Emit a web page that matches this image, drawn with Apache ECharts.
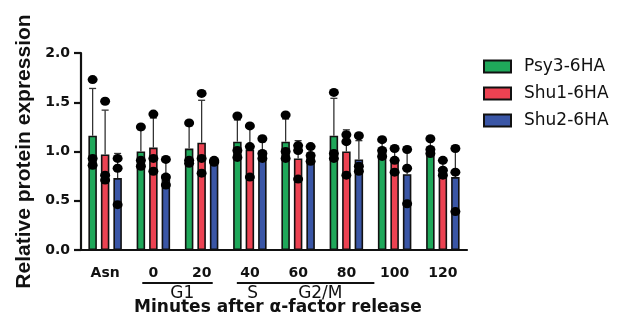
<!DOCTYPE html>
<html>
<head>
<meta charset="utf-8">
<script src="https://cdn.jsdelivr.net/npm/echarts@6/dist/echarts.min.js"></script>
<style>
html,body{margin:0;padding:0;background:#fff;}
#chart{width:621px;height:323px;}
</style>
</head>
<body>
<div id="chart"></div>
<script>
// ---- data ----
var categories = ['Asn', '0', '20', '40', '60', '80', '100', '120'];
var seriesNames = ['Psy3-6HA', 'Shu1-6HA', 'Shu2-6HA'];
var yTicks = [0, 0.5, 1.0, 1.5, 2.0];

var psy3Mean = [1.16, 1.00, 1.03, 1.10, 1.10, 1.16, 1.02, 1.03];
var shu1Mean = [0.97, 1.04, 1.09, 1.02, 0.93, 1.00, 0.91, 0.83];
var shu2Mean = [0.73, 0.77, 0.90, 1.00, 0.97, 0.92, 0.77, 0.74];

var psy3SD = [0.48, 0.22, 0.23, 0.22, 0.23, 0.38, 0.09, 0.08];
var shu1SD = [0.45, 0.30, 0.43, 0.26, 0.18, 0.22, 0.12, 0.08];
var shu2SD = [0.25, 0.13, 0.01, 0.10, 0.08, 0.19, 0.28, 0.32];

// individual replicate points (3 per bar)
var psy3Points = [[1.73, 0.93, 0.86], [1.25, 0.91, 0.85], [1.29, 0.91, 0.88], [1.36, 1.01, 0.94],
                  [1.37, 1.00, 0.93], [1.60, 0.98, 0.93], [1.12, 1.01, 0.95], [1.13, 1.02, 0.98]];
var shu1Points = [[1.51, 0.76, 0.71], [1.38, 0.93, 0.80], [1.59, 0.93, 0.78], [1.26, 1.05, 0.74],
                  [1.06, 1.01, 0.72], [1.17, 1.10, 0.76], [1.03, 0.91, 0.79], [0.91, 0.81, 0.76]];
var shu2Points = [[0.93, 0.83, 0.46], [0.92, 0.74, 0.66], [0.91, 0.90, 0.89], [1.13, 0.98, 0.93],
                  [1.05, 0.96, 0.90], [1.16, 0.85, 0.80], [1.02, 0.83, 0.47], [1.03, 0.79, 0.39]];

var colors = ['#1fa85a', '#ec4252', '#3a56a6'];

// ---- build ----
var means = [psy3Mean, shu1Mean, shu2Mean];
var sds = [psy3SD, shu1SD, shu2SD];
var points = [psy3Points, shu1Points, shu2Points];
var BAR_W = 8.5, STEP = 12.5;

var series = [];
means.forEach(function (m, s) {
  series.push({
    name: seriesNames[s], type: 'bar', data: m, barWidth: BAR_W, barGap: '47%',
    itemStyle: { color: colors[s], borderColor: '#111', borderWidth: 1.6 },
    z: 2, animation: false
  });
});
means.forEach(function (m, s) {
  var off = (s - 1) * STEP;
  series.push({
    type: 'custom', z: 3, animation: false, silent: true,
    data: m.map(function (v, i) { return [i, v, v + sds[s][i]]; }),
    renderItem: function (params, api) {
      var p0 = api.coord([api.value(0), api.value(1)]);
      var p1 = api.coord([api.value(0), api.value(2)]);
      var x = p0[0] + off;
      var st = { stroke: '#333', lineWidth: 1.3 };
      return { type: 'group', children: [
        { type: 'line', shape: { x1: x, y1: p0[1], x2: x, y2: p1[1] }, style: st },
        { type: 'line', shape: { x1: x - 3.5, y1: p1[1], x2: x + 3.5, y2: p1[1] }, style: st }
      ]};
    }
  });
});
points.forEach(function (pts, s) {
  var d = [];
  pts.forEach(function (arr, i) { arr.forEach(function (v) { d.push([categories[i], v]); }); });
  series.push({
    type: 'scatter', data: d, symbol: 'circle', symbolSize: [10, 9],
    symbolOffset: [(s - 1) * STEP, 0],
    itemStyle: { color: '#000', opacity: 1 }, z: 4, animation: false, silent: true
  });
});

var FONT = 'DejaVu Sans';
var chart = echarts.init(document.getElementById('chart'), null, { renderer: 'canvas' });
var option = {
  backgroundColor: '#fff',
  animation: false,
  grid: { left: 81, right: 154, top: 53, bottom: 73, containLabel: false },
  legend: {
    data: seriesNames, orient: 'vertical', left: 478, top: 53,
    itemWidth: 27, itemHeight: 12, itemGap: 10,
    textStyle: { fontFamily: FONT, fontSize: 17, color: '#111', padding: [0, 0, 0, 8] },
    icon: 'rect'
  },
  xAxis: {
    type: 'category', data: categories,
    axisLine: { lineStyle: { color: '#111', width: 2.2 } },
    axisTick: { alignWithLabel: true, length: 8, lineStyle: { color: '#111', width: 2.2 } },
    axisLabel: { fontFamily: FONT, fontWeight: 'bold', fontSize: 14, color: '#111', margin: 16 }
  },
  yAxis: {
    type: 'value', min: yTicks[0], max: yTicks[yTicks.length - 1], interval: 0.5,
    name: 'Relative protein expression', nameLocation: 'middle', nameGap: 46,
    nameTextStyle: { fontFamily: 'Liberation Sans', fontWeight: 'bold', fontSize: 21, color: '#111' },
    axisLine: { show: true, lineStyle: { color: '#111', width: 2.2 } },
    axisTick: { show: true, length: 7, lineStyle: { color: '#111', width: 2.2 } },
    axisLabel: { fontFamily: FONT, fontWeight: 'bold', fontSize: 14, color: '#111', margin: 11,
      formatter: function (v) { return v.toFixed(1); } },
    splitLine: { show: false }
  },
  series: series
};
chart.setOption(option);

// phase annotations positioned from the category scale
function cx(cat) { return chart.convertToPixel({ xAxisIndex: 0 }, cat); }
var band = cx('20') - cx('0');
var y0 = chart.convertToPixel({ yAxisIndex: 0 }, 0);
var lineY = y0 + 33, phaseY = y0 + 44, titleY = y0 + 58;
var lw = { stroke: '#111', lineWidth: 2.2 };
chart.setOption({
  graphic: [
    { type: 'line', shape: { x1: cx('0') - 0.23 * band, y1: lineY, x2: cx('20') + 0.23 * band, y2: lineY }, style: lw },
    { type: 'line', shape: { x1: cx('40') - 0.27 * band, y1: lineY, x2: cx('80') + 0.58 * band, y2: lineY }, style: lw },
    { type: 'text', x: cx('0') + 0.6 * band, y: phaseY, style: { text: 'G1', fontFamily: FONT, fontSize: 17, fill: '#111', align: 'center', verticalAlign: 'middle' } },
    { type: 'text', x: cx('40') + 0.06 * band, y: phaseY, style: { text: 'S', fontFamily: FONT, fontSize: 17, fill: '#111', align: 'center', verticalAlign: 'middle' } },
    { type: 'text', x: cx('60') + 0.46 * band, y: phaseY, style: { text: 'G2/M', fontFamily: FONT, fontSize: 17, fill: '#111', align: 'center', verticalAlign: 'middle' } },
    { type: 'text', x: cx('60') - 0.42 * band, y: titleY, style: { text: 'Minutes after \u03b1-factor release', fontFamily: FONT, fontWeight: 'bold', fontSize: 17, fill: '#111', align: 'center', verticalAlign: 'middle' } }
  ]
});
</script>
</body>
</html>
